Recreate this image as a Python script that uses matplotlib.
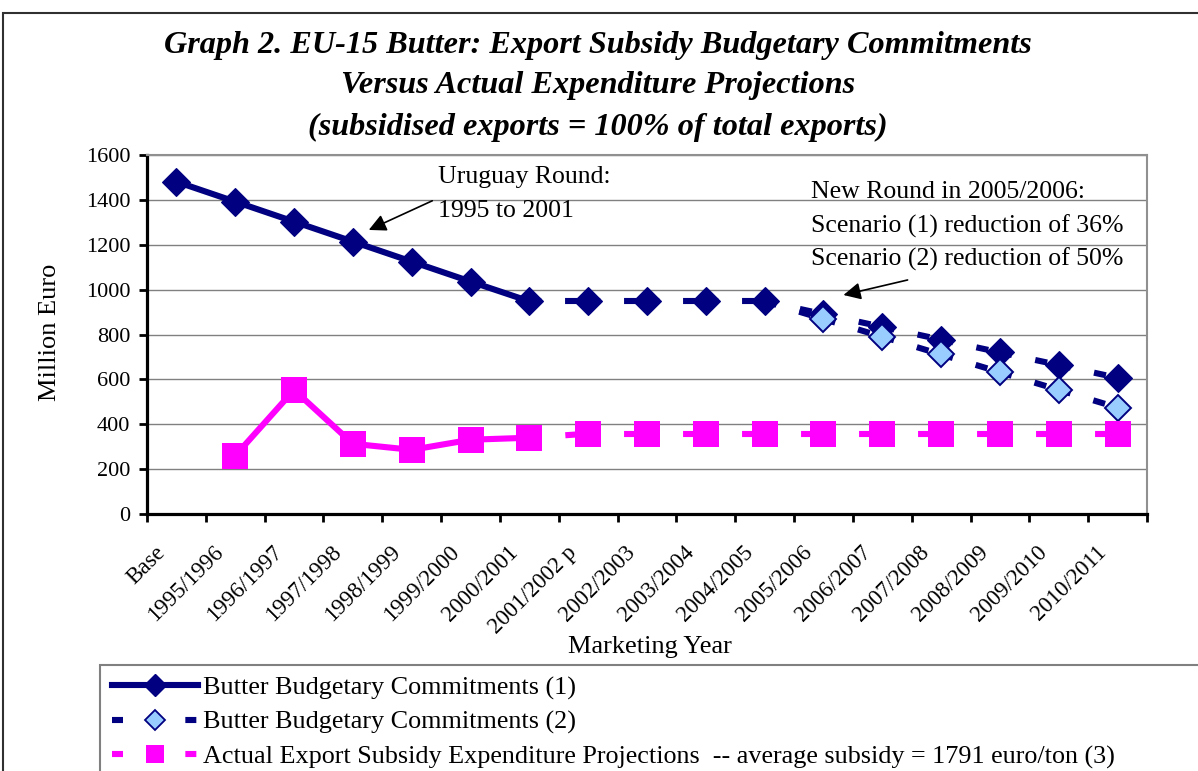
import numpy as np
import matplotlib
matplotlib.use('Agg')
import matplotlib.pyplot as plt
from matplotlib.lines import Line2D
from matplotlib.patches import Rectangle
from matplotlib.transforms import ScaledTranslation

plt.rcParams['font.family'] = ['Liberation Serif', 'DejaVu Serif']

# ---------------- data ----------------
categories = ['Base', '1995/1996', '1996/1997', '1997/1998', '1998/1999', '1999/2000',
              '2000/2001', '2001/2002 p', '2002/2003', '2003/2004', '2004/2005',
              '2005/2006', '2006/2007', '2007/2008', '2008/2009', '2009/2010', '2010/2011']
commit1 = [1481, 1392, 1303, 1214, 1125, 1036, 948, 948, 948, 948, 948,
           891, 834, 777, 720, 664, 607]
commit2 = [np.nan] * 10 + [948, 869, 790, 711, 632, 553, 474]
expend = [np.nan, 260, 553, 313, 286, 331, 340, 358, 358, 358, 358,
          358, 358, 358, 358, 358, 358]
last_actual = 6        # 2000/2001: last solid (actual) point
scenario_start = 11    # first year with scenario (2) marker
y_ticks = [0, 200, 400, 600, 800, 1000, 1200, 1400, 1600]

title_lines = ['Graph 2. EU-15 Butter: Export Subsidy Budgetary Commitments',
               'Versus Actual Expenditure Projections',
               '(subsidised exports = 100% of total exports)']
legend_labels = ['Butter Budgetary Commitments (1)',
                 'Butter Budgetary Commitments (2)',
                 'Actual Export Subsidy Expenditure Projections  -- average subsidy = 1791 euro/ton (3)']

NAVY = '#000080'
MAGENTA = '#FF00FF'
LIGHT = '#99CCFF'
GRID = '#808080'

W, H = 1198, 771
fig = plt.figure(figsize=(W / 100, H / 100), dpi=100)
ax = fig.add_axes([147 / W, 1 - 514 / H, 1000 / W, 359 / H])

x = np.arange(len(categories))
c1 = np.asarray(commit1, float)
c2 = np.asarray(commit2, float)
ex = np.asarray(expend, float)

DASH = (2.0, 3.9)


def draw(y, color, lw, solid_until):
    if solid_until is not None:
        ax.plot(x[:solid_until + 1], y[:solid_until + 1], color=color, lw=lw,
                solid_joinstyle='round', solid_capstyle='butt', zorder=3)
        start = solid_until
    else:
        start = 0
    for i in range(start, len(x) - 1):
        if np.isnan(y[i]) or np.isnan(y[i + 1]):
            continue
        ax.plot(x[i:i + 2], y[i:i + 2], color=color, lw=lw, dashes=DASH,
                dash_capstyle='butt', zorder=3)


# series 1
draw(c1, NAVY, 4.4, last_actual)
ax.plot(x, c1, ls='none', marker='D', ms=14, mfc=NAVY, mec=NAVY, mew=0.8, zorder=4)
# series 2
draw(c2, NAVY, 4.4, None)
ax.plot(x[scenario_start:], c2[scenario_start:], ls='none', marker='D', ms=13,
        mfc=LIGHT, mec=NAVY, mew=1.4, zorder=5)
# series 3
draw(ex, MAGENTA, 4.4, last_actual)
ax.plot(x, ex, ls='none', marker='s', ms=18.5, mfc=MAGENTA, mec=MAGENTA, mew=0, zorder=6)

# axes styling
ax.set_xlim(-0.5, len(categories) - 0.5)
ax.set_ylim(0, 1600)
ax.set_yticks(y_ticks)
ax.set_yticklabels([str(v) for v in y_ticks], fontsize=16)
ax.yaxis.grid(True, color=GRID, lw=1.0, zorder=0)
ax.set_axisbelow(True)
for s in ['left', 'bottom']:
    ax.spines[s].set_linewidth(2.3)
    ax.spines[s].set_color('black')
for s in ['top', 'right']:
    ax.spines[s].set_linewidth(1.5)
    ax.spines[s].set_color('#909090')
ax.tick_params(axis='y', length=6, width=2, pad=6, direction='out')
ax.set_xticks(np.arange(-0.5, len(categories), 1))
ax.set_xticklabels([])
ax.tick_params(axis='x', which='major', length=6, width=2, direction='out')
ax.set_xticks(x, minor=True)
ax.set_xticklabels(categories, minor=True, fontsize=16.5, rotation=45,
                   ha='right', va='top', rotation_mode='anchor')
ax.tick_params(axis='x', which='minor', length=0, pad=20)
off = ScaledTranslation(-0.22, 0, fig.dpi_scale_trans)
for lab in ax.get_xticklabels(minor=True):
    lab.set_transform(lab.get_transform() + off)

# annotations
FS_ANN = 18.5
ax.text(4.45, 1502, 'Uruguay Round:', fontsize=FS_ANN, va='center', ha='left', zorder=2)
ax.text(4.45, 1352, '1995 to 2001', fontsize=FS_ANN, va='center', ha='left', zorder=2)
ax.annotate('', xy=(3.27, 1266), xytext=(4.35, 1396),
            arrowprops=dict(arrowstyle='-|>', color='black', lw=1.2, mutation_scale=26,
                            shrinkA=0, shrinkB=0))
ax.text(10.78, 1435, 'New Round in 2005/2006:', fontsize=FS_ANN, va='center', ha='left', zorder=2)
ax.text(10.78, 1281, 'Scenario (1) reduction of 36%', fontsize=FS_ANN, va='center', ha='left', zorder=2)
ax.text(10.78, 1134, 'Scenario (2) reduction of 50%', fontsize=FS_ANN, va='center', ha='left', zorder=2)
ax.annotate('', xy=(11.34, 976), xytext=(12.43, 1043),
            arrowprops=dict(arrowstyle='-|>', color='black', lw=1.2, mutation_scale=26,
                            shrinkA=0, shrinkB=0))

# titles and axis labels
for i, t in enumerate(title_lines):
    fig.text(598 / W, 1 - (45 + 41 * i) / H, t, fontsize=23.2, fontweight='bold',
             fontstyle='italic', ha='center', va='center')
fig.text(50 / W, 1 - 332 / H, 'Million Euro', fontsize=19, rotation=90,
         ha='center', va='center')
fig.text(650 / W, 1 - 647 / H, 'Marketing Year', fontsize=19, ha='center', va='center')

# outer chart border and legend frame
fig.patches.append(Rectangle((3 / W, -0.1), 1.2, 1 - 13 / H + 0.1, transform=fig.transFigure,
                             fill=False, ec='#303030', lw=1.5))
fig.patches.append(Rectangle((100 / W, -0.1), 1.2, 1 - 665 / H + 0.1, transform=fig.transFigure,
                             fill=False, ec='#808080', lw=1.5))

# legend
LDASH = (1.8, 10.2)
h1 = Line2D([], [], color=NAVY, lw=4.4, marker='D', ms=11, mfc=NAVY, mec=NAVY)
h2 = Line2D([], [], color=NAVY, lw=4.4, dashes=LDASH, marker='D', ms=10,
            mfc=LIGHT, mec=NAVY, mew=1.3)
h3 = Line2D([], [], color=MAGENTA, lw=4.4, dashes=LDASH, marker='s', ms=13,
            mfc=MAGENTA, mec=MAGENTA, mew=0)
fig.legend([h1, h2, h3], legend_labels, loc='upper left',
           bbox_to_anchor=(112 / W, 1 - 676 / H), bbox_transform=fig.transFigure,
           frameon=False, fontsize=18.8, handlelength=3.3, handletextpad=0.2,
           labelspacing=0.42, borderpad=0, borderaxespad=0, numpoints=1)

fig.savefig('out.png', dpi=100)
